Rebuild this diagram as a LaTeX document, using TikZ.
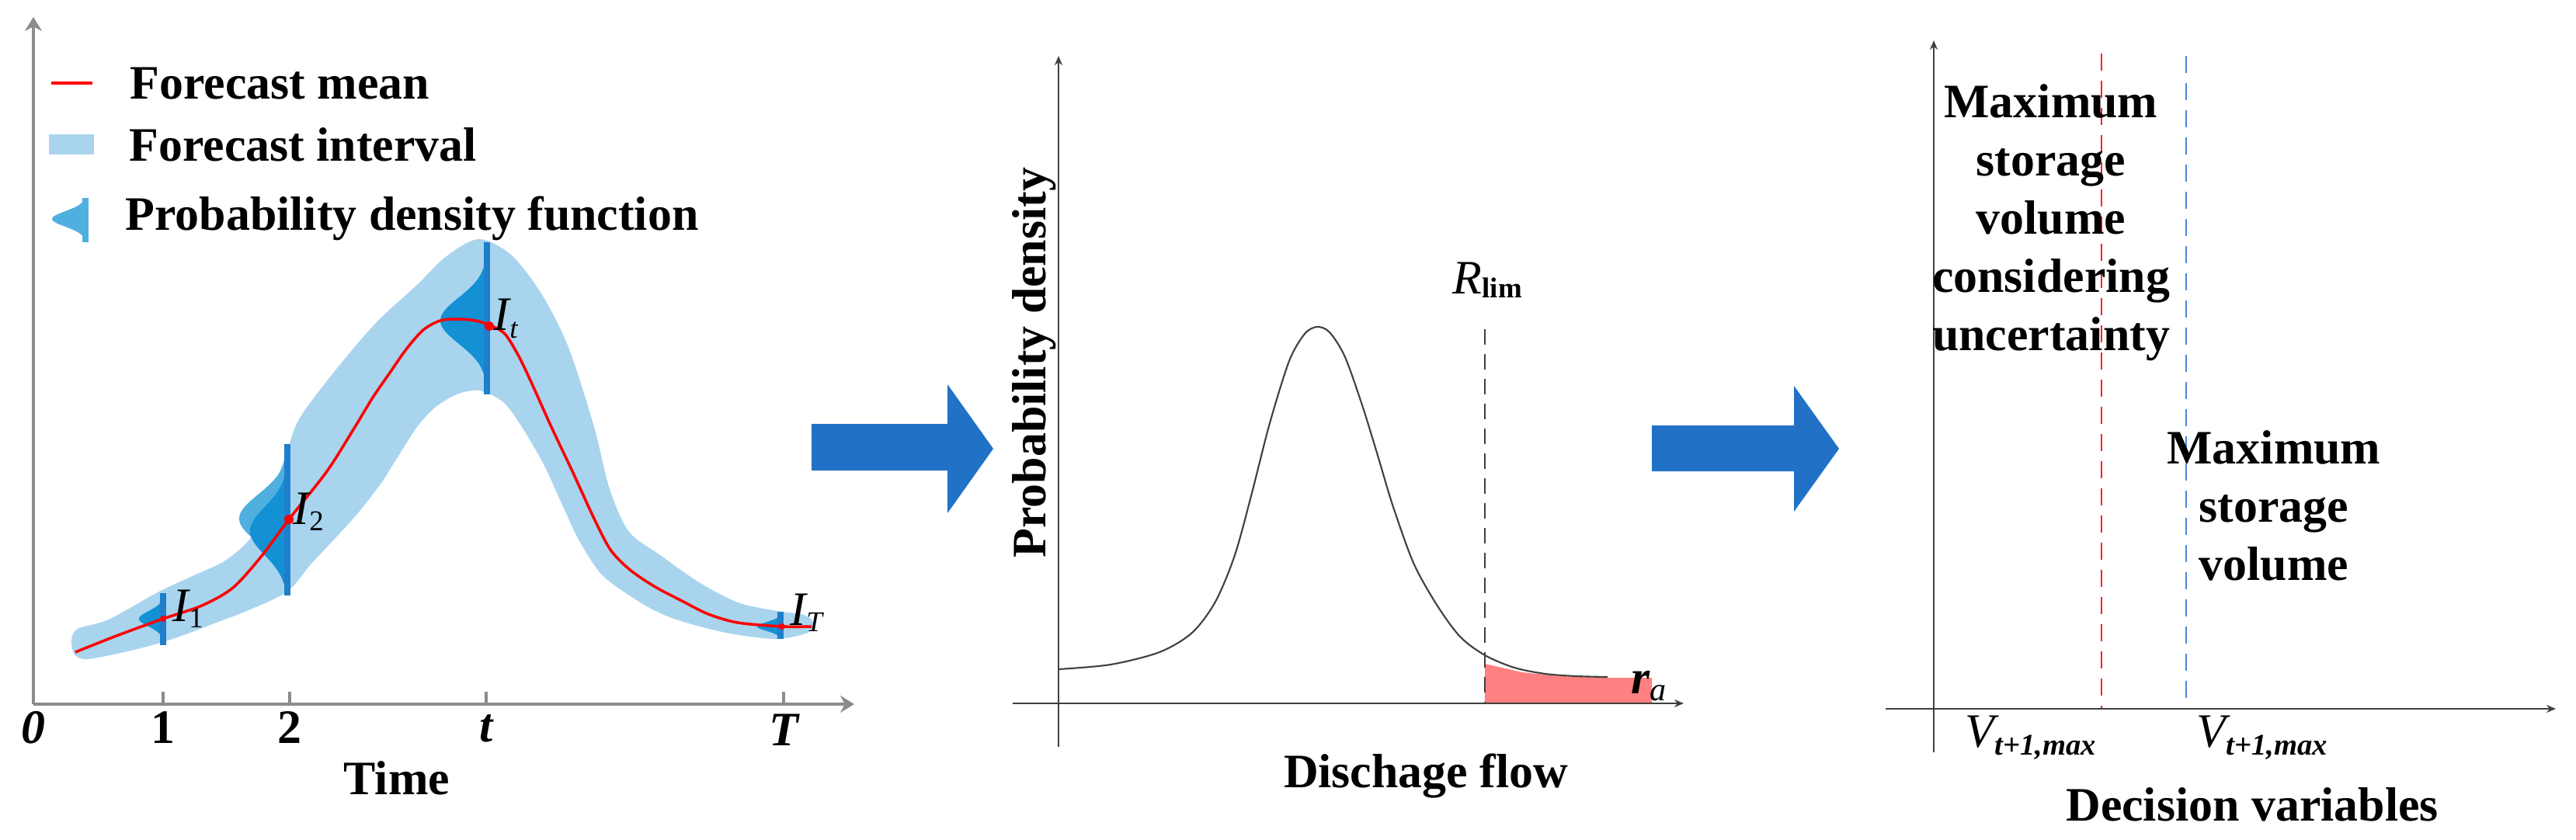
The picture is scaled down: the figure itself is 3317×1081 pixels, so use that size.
\documentclass[tikz,border=0pt]{standalone}
\usepackage{fontspec}
\setmainfont{Liberation Serif}
\usetikzlibrary{arrows.meta}
\definecolor{bandblue}{HTML}{A8D4EE}
\definecolor{pdfblue}{HTML}{1490D4}
\definecolor{pdflight}{HTML}{4FB0E0}
\definecolor{barblue}{HTML}{1F7FCC}
\definecolor{bigarrow}{HTML}{2172C7}
\definecolor{axgray}{HTML}{8C8C8C}
\definecolor{axdark}{HTML}{404040}
\definecolor{tailred}{HTML}{FF8080}
\definecolor{vred}{HTML}{FF2020}
\definecolor{vblue}{HTML}{4A86D8}
\newcommand\fsz{\fontsize{17.6pt}{21.35pt}\selectfont}
\newcommand\sfz{\fontsize{10.5pt}{12pt}\selectfont}
\newcommand\subx[2][-0.8mm]{\raisebox{#1}{\sfz #2}}
% x, ytop, ybottom, ymu, amplitude, sigma, colour
\newcommand\pdfcurve[7]{%
  \fill[#7] (#1,#2) -- plot[domain=#2:#3, samples=60, variable=\yy]
     ({#1-#5*exp(-((\yy-#4)/#6)*((\yy-#4)/#6))}, \yy) -- cycle;}
\newcommand\pdfshape[7]{%
  \pdfcurve{#1}{#2}{#3}{#4}{#5}{#6}{#7}%
  \fill[barblue] ({#1-4},#2) rectangle ({#1+4},#3);}
\begin{document}
\begin{tikzpicture}[x=0.1mm,y=-0.1mm,
  txt/.style={font=\fsz\bfseries, inner sep=0pt},
  grayaxis/.style={axgray, line width=1.2pt, -{Stealth[length=1.8mm,width=2.2mm]}},
  darkaxis/.style={axdark, line width=0.6pt, -{Stealth[length=1.2mm,width=1mm]}},
  tickmark/.style={axgray, line width=1.2pt},
  dashline/.style={line width=0.8pt, dash pattern=on 2.2mm off 1.3mm}]
\useasboundingbox (0,0) rectangle (3317,1081);
\fill[white] (0,0) rectangle (3317,1081);

% ================= LEFT PANEL =================
% forecast interval band
\fill[bandblue] plot[smooth cycle, tension=0.5] coordinates {
 (92,825) (100,810) (140,798) (203,763) (250,741) (290,722) (325,690) (352,630)
 (370,580) (385,540) (427,483) (483,417) (537,367) (575,330) (617,308) (660,330)
 (700,383) (733,450) (765,550) (785,630) (810,685) (850,715) (900,750) (950,776)
 (1000,787) (1035,792) (1048,803)
 (1040,815) (1000,823) (940,816) (880,801) (842,786) (800,760) (772,737) (745,695)
 (723,648) (700,598) (672,550) (648,518) (617,503) (588,508) (560,525) (537,550)
 (510,592) (491,622) (460,662) (430,695) (400,727) (370,762) (320,786) (281,801)
 (250,813) (210,827) (160,840) (112,849) (96,843)};

% probability density shapes
\pdfshape{627}{312}{508}{413}{60}{42}{pdfblue}
\pdfcurve{370}{572}{767}{668}{62}{44}{pdflight}
\pdfshape{370}{572}{767}{684}{48}{44}{pdfblue}
\pdfshape{210}{764}{831}{797}{31}{14}{pdfblue}
\pdfshape{1005}{788}{823}{807}{30}{8}{pdfblue}

% forecast mean
\draw[red, line width=1pt] plot[smooth, tension=0.5] coordinates {
 (97,840) (150,819) (210,797) (260,780) (300,757) (337,716) (372,669) (421,607)
 (457,550) (480,512) (500,483) (523,450) (545,425) (567,413) (590,411) (612,413)
 (631,419) (650,430) (667,457) (683,490) (710,550) (737,607) (765,668) (786,708)
 (810,733) (842,755) (880,775) (912,791) (950,802) (1007,807) (1045,807)};
\fill[red] (630,420) circle (6);
\fill[red] (372,669) circle (6);
\fill[red] (210,797) circle (4);
\fill[red] (1007,807) circle (4);

% point labels
\node[inner sep=0pt, anchor=base west, font=\fsz] (i1) at (222,800) {\itshape I\subx{\upshape 1}};
\node[inner sep=0pt, anchor=base west, font=\fsz] (i2) at (377,675) {\itshape I\subx{\upshape 2}};
\node[inner sep=0pt, anchor=base west, font=\fsz] (it) at (635,425) {\itshape I\subx[-1mm]{t}};
\node[inner sep=0pt, anchor=base west, font=\fsz] (iT) at (1017,805) {\itshape I\subx{T}};

% axes
\coordinate (o1) at (43,907);
\coordinate (y1) at (43,22);
\coordinate (x1) at (1100,907);
\draw[grayaxis] (o1) -- (y1);
\draw[grayaxis] (o1) -- (x1);
\foreach \xx in {210,373,626,1009} \draw[tickmark] (\xx,891) -- (\xx,907);
\node[txt, font=\fsz\bfseries\itshape] (l0) at (43,937) {0};
\node[txt] (l1) at (210,937) {1};
\node[txt] (l2) at (373,937) {2};
\node[txt, font=\fsz\bfseries\itshape] (lt) at (626,938) {t};
\node[txt, font=\fsz\bfseries\itshape] (lT) at (1009,940) {T};
\node[txt] (time) at (511,1002) {Time};

% legend
\draw[red, line width=1pt] (66,107) -- (119,107);
\fill[bandblue] (63,173) rectangle (121,199);
\fill[pdflight] (110,255) -- plot[domain=255:312, samples=40, variable=\yy]
     ({110-43*exp(-((\yy-282)/14)*((\yy-282)/14))}, \yy) -- cycle;
\fill[pdflight] (106,255) rectangle (114,312);
\node[txt, anchor=base west] (lg1) at (167,127) {Forecast mean};
\node[txt, anchor=base west] (lg2) at (166,207) {Forecast interval};
\node[txt, anchor=base west] (lg3) at (161,296) {Probability density function};

% big arrow 1
\fill[bigarrow] (1045,546) -- (1220,546) -- (1220,495) -- (1279,578)
  -- (1220,661) -- (1220,606) -- (1045,606) -- cycle;

% ================= MIDDLE PANEL =================
\fill[tailred] (1912,906) -- (1912,855) -- (1960,866) -- (2010,871) -- (2070,873)
  -- (2127,873) -- (2127,906) -- cycle;
\draw[axdark, line width=0.6pt] plot[smooth, tension=0.5] coordinates {
 (1363,862) (1430,856) (1493,840) (1535,815) (1565,775) (1590,715) (1612,635)
 (1635,545) (1660,465) (1680,430) (1696,421) (1712,428) (1732,460) (1755,525)
 (1775,590) (1793,650) (1820,725) (1850,779) (1880,820) (1912,844) (1950,860)
 (1990,868) (2030,871) (2070,872)};
\coordinate (rtop) at (1912,424);
\coordinate (rbot) at (1912,906);
\draw[axdark, line width=0.6pt, dash pattern=on 2mm off 1.2mm] (rtop) -- (rbot);
\coordinate (o2b) at (1363,962);
\coordinate (y2) at (1363,72);
\coordinate (o2l) at (1304,906);
\coordinate (x2) at (2168,906);
\draw[darkaxis] (o2b) -- (y2);
\draw[darkaxis] (o2l) -- (x2);
\node[inner sep=0pt, anchor=base west, font=\fsz] (rlim) at (1870,378)
  {\itshape R\subx[-0.5mm]{\upshape\bfseries lim}};
\node[inner sep=0pt, anchor=base west, font=\fsz] (ra) at (2100,893)
  {\bfseries\itshape r\subx[-0.9mm]{\fontsize{12pt}{14pt}\selectfont\mdseries a}};
\node[txt, rotate=90] (pdens) at (1332,467) {Probability density};
\node[txt] (dflow) at (1836,1000) {Dischage flow};

% big arrow 2
\fill[bigarrow] (2127,548) -- (2310,548) -- (2310,497) -- (2368,578)
  -- (2310,659) -- (2310,607) -- (2127,607) -- cycle;

% ================= RIGHT PANEL =================
\coordinate (o3b) at (2490,969);
\coordinate (y3) at (2490,52);
\coordinate (o3l) at (2428,913);
\coordinate (x3) at (3291,913);
\coordinate (vrt) at (2706,69);
\coordinate (vrb) at (2706,913);
\coordinate (vbt) at (2815,72);
\coordinate (vbb) at (2815,913);
\draw[dashline, vred] (vrt) -- (vrb);
\draw[dashline, vblue] (vbt) -- (vbb);
\draw[darkaxis] (o3b) -- (y3);
\draw[darkaxis] (o3l) -- (x3);
\node[txt, align=center, anchor=north] (mx1) at (2641,108)
  {Maximum\\storage\\volume\\considering\\uncertainty};
\node[txt, align=center, anchor=north] (mx2) at (2928,554)
  {Maximum\\storage\\volume};
\node[inner sep=0pt, anchor=base west, font=\fsz] (v1) at (2530,962)
  {\itshape V\subx[-1mm]{\fontsize{11pt}{13pt}\selectfont\bfseries t+1,max}};
\node[inner sep=0pt, anchor=base west, font=\fsz] (v2) at (2828,962)
  {\itshape V\subx[-1mm]{\fontsize{11pt}{13pt}\selectfont\bfseries t+1,max}};
\node[txt] (dvar) at (2900,1036) {Decision variables};
\end{tikzpicture}
\end{document}
